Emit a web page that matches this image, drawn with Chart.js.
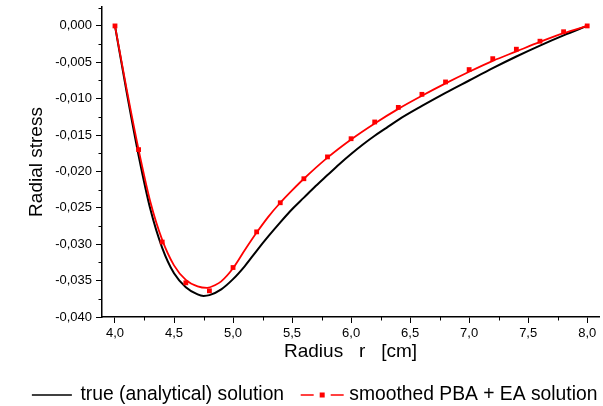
<!DOCTYPE html>
<html><head><meta charset="utf-8">
<script src="https://cdn.jsdelivr.net/npm/chart.js@4/dist/chart.umd.min.js"></script>
<style>html,body{margin:0;padding:0;background:#fff;overflow:hidden}</style>
</head><body>
<canvas id="c" width="603" height="406"></canvas>
<script>
// ---- data ----
const blackX = [4.0, 4.1, 4.2, 4.3, 4.4, 4.5, 4.6, 4.7, 4.75, 4.8, 4.9, 5.0, 5.1, 5.2, 5.3, 5.4, 5.5, 5.6, 5.7, 5.8, 5.9, 6.0, 6.1, 6.2, 6.3, 6.4, 6.6, 6.8, 7.0, 7.2, 7.4, 7.6, 7.8, 8.0];
const blackY = [0.0, -0.0092, -0.0178, -0.0252, -0.0305, -0.0340, -0.0359, -0.0369, -0.0371, -0.0370, -0.0362, -0.0348, -0.0330, -0.0309, -0.0289, -0.0270, -0.0252, -0.0236, -0.0220, -0.0205, -0.0190, -0.0176, -0.0163, -0.0151, -0.0140, -0.0129, -0.0110, -0.0092, -0.0075, -0.0058, -0.0042, -0.0027, -0.0013, 0.0];

const redCurveX = [4.0, 4.1, 4.2, 4.3, 4.4, 4.5, 4.6, 4.7, 4.78, 4.85, 4.9, 5.0, 5.1, 5.2, 5.3, 5.4, 5.5, 5.6, 5.8, 6.0, 6.2, 6.4, 6.6, 6.8, 7.0, 7.2, 7.4, 7.6, 7.8, 8.0];
const redCurveY = [0.0, -0.0088, -0.0170, -0.0242, -0.0294, -0.0329, -0.0349, -0.0358, -0.0360, -0.0356, -0.0351, -0.0333, -0.0308, -0.0284, -0.0262, -0.0243, -0.0226, -0.0210, -0.0181, -0.0156, -0.0134, -0.0114, -0.0096, -0.0079, -0.0063, -0.0048, -0.0035, -0.0022, -0.0010, 0.0];

const redPointX = [4.0, 4.2, 4.4, 4.6, 4.8, 5.0, 5.2, 5.4, 5.6, 5.8, 6.0, 6.2, 6.4, 6.6, 6.8, 7.0, 7.2, 7.4, 7.6, 7.8, 8.0];
const redPointY = [0.0, -0.0170, -0.0297, -0.0353, -0.0364, -0.0332, -0.0283, -0.0243, -0.0210, -0.0180, -0.0155, -0.0132, -0.0112, -0.0094, -0.0077, -0.0060, -0.0045, -0.0032, -0.0021, -0.0008, 0.0];

const xMajorTicks = [4.0, 4.5, 5.0, 5.5, 6.0, 6.5, 7.0, 7.5, 8.0];
const xMinorTicks = [4.25, 4.75, 5.25, 5.75, 6.25, 6.75, 7.25, 7.75];
const yMajorTicks = [0.0, -0.005, -0.010, -0.015, -0.020, -0.025, -0.030, -0.035, -0.040];
const yMinorTicks = [0.0025, -0.0025, -0.0075, -0.0125, -0.0175, -0.0225, -0.0275, -0.0325, -0.0375];

const seriesNames = ['true (analytical) solution', 'smoothed PBA + EA solution'];
const xTitle = 'Radius   r   [cm]';
const yTitle = 'Radial stress';

// ---- helpers ----
const zip = (xs, ys) => xs.map((x, i) => ({x: x, y: ys[i]}));
const FONT = "'Liberation Sans', Arial, sans-serif";
const PLOT_TOP = 7, PLOT_BOTTOM = 317, PLOT_LEFT = 102;
const PAD_BOTTOM = -8.65;
const LEG_FONT = 19.3;

function legendImage(kind) {
  const c = document.createElement('canvas');
  c.width = 100; c.height = 12;
  const g = c.getContext('2d');
  const cx = 50, cy = 6;
  if (kind === 'black') {
    g.strokeStyle = '#000'; g.lineWidth = 1.5;
    g.beginPath(); g.moveTo(cx - 14, cy); g.lineTo(cx + 26, cy); g.stroke();
  } else {
    g.strokeStyle = '#ff0000'; g.lineWidth = 1.5;
    g.beginPath(); g.moveTo(cx - 14, cy); g.lineTo(cx - 1, cy); g.stroke();
    g.beginPath(); g.moveTo(cx + 16, cy); g.lineTo(cx + 29, cy); g.stroke();
    g.fillStyle = '#ff0000';
    g.fillRect(cx + 5, cy - 2.5, 5, 5);
  }
  return c;
}
const legendImgs = [legendImage('black'), legendImage('red')];

const minorTicks = {
  id: 'minorTicks',
  afterDraw(chart) {
    const ctx = chart.ctx, xs = chart.scales.x, ys = chart.scales.y;
    ctx.save();
    ctx.strokeStyle = '#000'; ctx.lineWidth = 1;
    xMinorTicks.forEach(v => {
      const p = Math.round(xs.getPixelForValue(v)) + 0.5;
      ctx.beginPath(); ctx.moveTo(p, xs.top); ctx.lineTo(p, xs.top + 3.5); ctx.stroke();
    });
    yMinorTicks.forEach(v => {
      const p = Math.round(ys.getPixelForValue(v)) + 0.5;
      ctx.beginPath(); ctx.moveTo(ys.right - 3.5, p); ctx.lineTo(ys.right, p); ctx.stroke();
    });
    ctx.restore();
  }
};

new Chart(document.getElementById('c'), {
  type: 'scatter',
  data: {
    datasets: [
      { label: seriesNames[0], data: zip(blackX, blackY), showLine: true, borderColor: '#000000', backgroundColor: '#000000', borderWidth: 2, pointRadius: 0, cubicInterpolationMode: 'monotone', order: 3 },
      { label: seriesNames[1], data: zip(redCurveX, redCurveY), showLine: true, borderColor: '#ff0000', backgroundColor: '#ff0000', borderWidth: 1.8, pointRadius: 0, cubicInterpolationMode: 'monotone', order: 2 },
      { label: seriesNames[1] + ' points', data: zip(redPointX, redPointY), showLine: false, borderColor: '#ff0000', backgroundColor: '#ff0000', pointStyle: 'rect', pointRadius: 3.4, borderWidth: 0, order: 1 }
    ]
  },
  options: {
    responsive: false,
    devicePixelRatio: 1,
    animation: false,
    layout: { padding: { top: PLOT_TOP, right: 0, left: 0, bottom: PAD_BOTTOM } },
    plugins: {
      tooltip: { enabled: false },
      legend: {
        position: 'bottom',
        align: 'end',
        labels: {
          usePointStyle: true,
          pointStyleWidth: 49.95,
          padding: 5.6,
          color: '#000',
          font: { family: FONT, size: LEG_FONT },
          generateLabels: () => seriesNames.map((n, i) => ({ text: n, pointStyle: legendImgs[i], fillStyle: 'transparent', strokeStyle: 'transparent', lineWidth: 0, hidden: false, datasetIndex: i }))
        }
      }
    },
    scales: {
      x: {
        type: 'linear', min: 3.89, max: 8.1,
        afterBuildTicks: s => { s.ticks = xMajorTicks.map(v => ({ value: v })); },
        afterFit: s => {
          s.paddingLeft = 0; s.paddingRight = 0;
          s.height = (s.chart.height - PAD_BOTTOM) - s.chart.legend.height - PLOT_BOTTOM;
        },
        grid: { display: true, drawOnChartArea: false, drawTicks: true, tickLength: 6, color: '#000', lineWidth: 1 },
        border: { display: true, color: '#000', width: 1.5 },
        ticks: { color: '#000', padding: 3, maxRotation: 0, autoSkip: false, font: { family: FONT, size: 13 }, callback: v => v.toFixed(1).replace('.', ',') },
        title: { display: true, text: xTitle, color: '#000', font: { family: FONT, size: 19 }, padding: { top: 0, bottom: 17 } }
      },
      y: {
        type: 'linear', min: -0.040, max: 0.0026,
        afterBuildTicks: s => { s.ticks = yMajorTicks.map(v => ({ value: v })); },
        afterFit: s => { s.width = PLOT_LEFT; s.paddingTop = 0; s.paddingBottom = 0; },
        grid: { display: true, drawOnChartArea: false, drawTicks: true, tickLength: 6, color: '#000', lineWidth: 1 },
        border: { display: true, color: '#000', width: 1.5 },
        ticks: { color: '#000', padding: 4, autoSkip: false, font: { family: FONT, size: 13 }, callback: v => (Math.abs(v) < 1e-9 ? 0 : v).toFixed(3).replace('.', ',') },
        title: { display: true, text: yTitle, color: '#000', font: { family: FONT, size: 19 }, padding: { top: 25, bottom: 0 } }
      }
    }
  },
  plugins: [minorTicks]
});
</script>
</body></html>
